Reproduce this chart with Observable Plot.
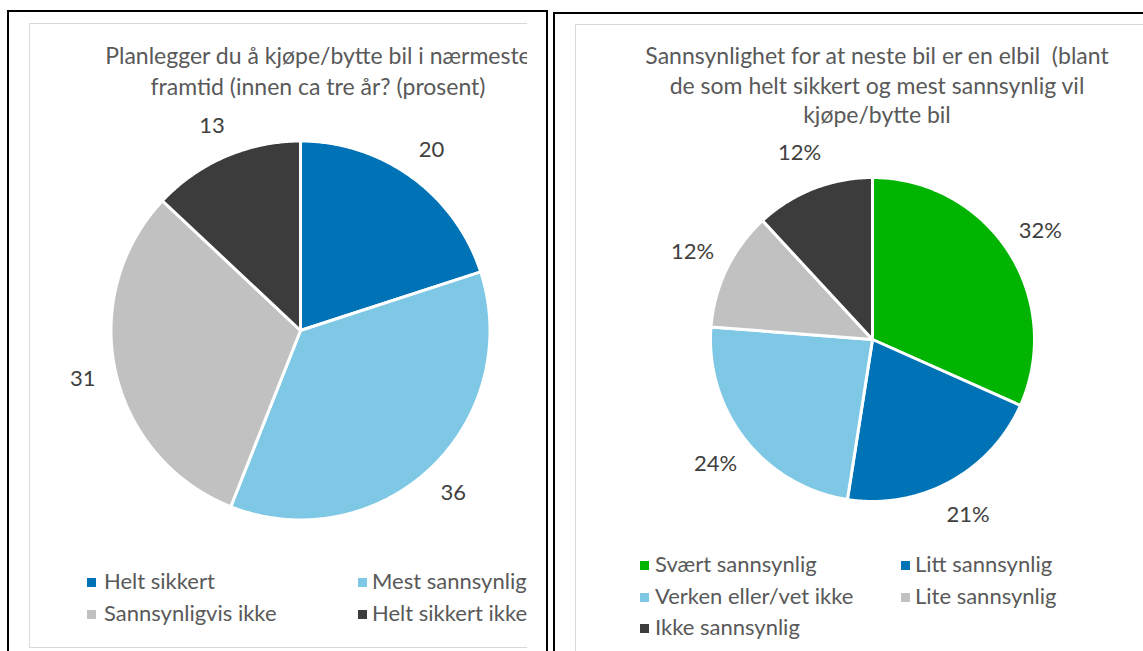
<!DOCTYPE html>
<html><head><meta charset="utf-8">
<script src="https://cdn.jsdelivr.net/npm/d3@7"></script>
<script src="https://cdn.jsdelivr.net/npm/@observablehq/plot@0.6"></script>
<style>
body{margin:0;background:#fff;font-family:Lato,"Noto Sans",sans-serif;}
#page{position:relative;width:1143px;height:651px;overflow:hidden;background:#fff;}
.abs{position:absolute;}
.frame{position:absolute;border:1px solid #d9d9d9;box-sizing:border-box;}
.black{position:absolute;border:2px solid #000;box-sizing:border-box;}
.title{position:absolute;text-align:center;color:#595959;font-size:23px;white-space:pre;}
.leg{position:absolute;color:#595959;font-size:22px;line-height:24px;white-space:nowrap;}
.sw{position:absolute;width:9px;height:9px;}
</style>
</head><body>
<div id="page">
  <div id="leftClip" class="abs" style="left:0;top:0;width:527px;height:651px;overflow:hidden;">
    <div class="frame" style="left:29px;top:23px;width:560px;height:625px;"></div>
  </div>
  <div id="rightClip" class="abs" style="left:556px;top:14px;width:587px;height:637px;overflow:hidden;">
    <div class="frame" style="left:19px;top:10px;width:620px;height:660px;"></div>
  </div>
  <div class="black" style="left:7px;top:10px;width:541px;height:660px;"></div>
  <div class="black" style="left:553px;top:12px;width:620px;height:660px;"></div>
</div>
<script>
// ---- data ----
const leftTitle = ["Planlegger du å kjøpe/bytte bil i nærmeste", "framtid (innen ca tre år? (prosent)"];
const leftCats = ["Helt sikkert", "Mest sannsynlig", "Sannsynligvis ikke", "Helt sikkert ikke"];
const leftValues = [20, 36, 31, 13];
const leftLabels = ["20", "36", "31", "13"];
const leftColors = ["#0072B6", "#7EC8E5", "#C0C1C0", "#3B3C3B"];

const rightTitle = ["Sannsynlighet for at neste bil er en elbil  (blant", "de som helt sikkert og mest sannsynlig vil", "kjøpe/bytte bil"];
const rightCats = ["Svært sannsynlig", "Litt sannsynlig", "Verken eller/vet ikke", "Lite sannsynlig", "Ikke sannsynlig"];
const rightValues = [32, 21, 24, 12, 12];
const rightLabels = ["32%", "21%", "24%", "12%", "12%"];
const rightColors = ["#02B402", "#0072B6", "#7EC8E5", "#C0C1C0", "#3B3C3B"];

const FONT = "Lato, 'Noto Sans', sans-serif";

function pieChart(cats, values, labels, colors, rPx, labelPx, size) {
  const arcs = d3.pie().sort(null).value(d => d)(values);
  const pts = [], labs = [];
  arcs.forEach((a, i) => {
    const cat = cats[i];
    pts.push({cat, x: 0, y: 0});
    const n = Math.max(2, Math.ceil((a.endAngle - a.startAngle) / (Math.PI / 360)));
    for (let k = 0; k <= n; k++) {
      const t = a.startAngle + (a.endAngle - a.startAngle) * k / n;
      pts.push({cat, x: Math.sin(t), y: Math.cos(t)});
    }
    const m = (a.startAngle + a.endAngle) / 2;
    const lr = labelPx / rPx;
    labs.push({text: labels[i], x: lr * Math.sin(m), y: lr * Math.cos(m)});
  });
  const k = size / 2 / rPx;
  return Plot.plot({
    width: size, height: size, margin: 0,
    x: {domain: [-k, k], axis: null},
    y: {domain: [-k, k], axis: null},
    color: {domain: cats, range: colors},
    style: {background: "transparent", overflow: "visible", fontFamily: FONT},
    marks: [
      Plot.line(pts, {x: "x", y: "y", z: "cat", fill: "cat", stroke: "white", strokeWidth: 3, curve: "linear-closed", strokeLinejoin: "round"}),
      Plot.text(labs, {x: "x", y: "y", text: "text", fontSize: 22, fill: "#404040", fontFamily: FONT})
    ]
  });
}

function addTitle(container, lines, cx, top, lh) {
  const d = document.createElement("div");
  d.className = "title";
  d.style.left = (cx - 400) + "px";
  d.style.width = "800px";
  d.style.top = top + "px";
  d.style.lineHeight = lh + "px";
  d.textContent = lines.join("\n");
  container.appendChild(d);
}

function addLegend(container, cats, colors, cols, rows) {
  cats.forEach((c, i) => {
    const col = cols[i % 2], row = rows[Math.floor(i / 2)];
    const sw = document.createElement("div");
    sw.className = "sw";
    sw.style.left = col.sq + "px";
    sw.style.top = (row - 4) + "px";
    sw.style.background = colors[i];
    container.appendChild(sw);
    const t = document.createElement("div");
    t.className = "leg";
    t.style.left = col.tx + "px";
    t.style.top = (row - 13) + "px";
    t.textContent = c;
    container.appendChild(t);
  });
}

function place(container, svg, left, top) {
  svg.style.position = "absolute";
  svg.style.left = left + "px";
  svg.style.top = top + "px";
  container.appendChild(svg);
}

// left chart (page coords; clip at origin)
const L = document.getElementById("leftClip");
const lSize = 500, lcx = 300, lcy = 330;
place(L, pieChart(leftCats, leftValues, leftLabels, leftColors, 189.5, 223, lSize), lcx - lSize / 2, lcy - lSize / 2);
addTitle(L, leftTitle, 318, 40, 31);
addLegend(L, leftCats, leftColors, [{sq: 87, tx: 104}, {sq: 358, tx: 372}], [582, 614]);

// right chart (clip offset 556,14)
const R = document.getElementById("rightClip");
const ox = 556, oy = 14;
const rSize = 460, rcx = 872 - ox, rcy = 338.5 - oy;
place(R, pieChart(rightCats, rightValues, rightLabels, rightColors, 162, 200, rSize), rcx - rSize / 2, rcy - rSize / 2);
addTitle(R, rightTitle, 877 - ox, 41 - oy, 29.5);
addLegend(R, rightCats, rightColors, [{sq: 640 - ox, tx: 655 - ox}, {sq: 901 - ox, tx: 915 - ox}], [565 - oy, 597 - oy, 628 - oy]);
</script>
</body></html>
